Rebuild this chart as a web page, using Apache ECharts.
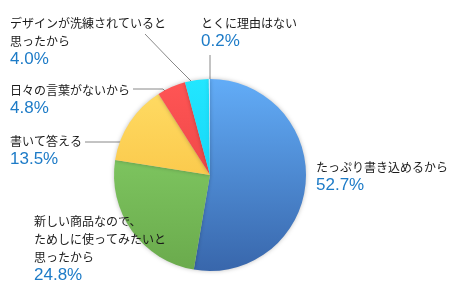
<!DOCTYPE html>
<html><head><meta charset="utf-8">
<script src="https://cdn.jsdelivr.net/npm/echarts@6/dist/echarts.min.js"></script>
<style>html,body{margin:0;padding:0;background:#fff}#c{width:450px;height:295px}</style>
</head><body><div id="c"></div>
<script>
// Data
const categories = ['たっぷり書き込めるから', '新しい商品なので、\nためしに使ってみたいと\n思ったから', '書いて答える', '日々の言葉がないから', 'デザインが洗練されていると\n思ったから', 'とくに理由はない'];
const values = [52.7, 24.8, 13.5, 4.8, 4.0, 0.2];

// Styles / layout
const colorsTop = ['#62acf7', '#8ad66c', '#ffdd66', '#ff5555', '#22e6ff', '#cfe8ff'];
const colorsBot = ['#3866ab', '#6aaa4c', '#f7b733', '#e03b3b', '#0ac8ef', '#a8cce8'];
const labelPos = [[316, 158], [34, 212], [10, 132], [10, 81], [10, 14], [201, 14]];
const linePts = [null, null,
  [[85, 142], [120, 142], [148, 142]],
  [[133, 89], [163, 89], [176, 102]],
  [[145, 34], [172, 62], [200, 90]],
  [[210, 55], [210, 75], [210, 97]]];

const chart = echarts.init(document.getElementById('c'), null, {renderer: 'canvas'});
const data = categories.map((name, i) => ({
  name, value: values[i],
  itemStyle: {
    color: new echarts.graphic.LinearGradient(0, 80, 0, 272, [
      {offset: 0, color: colorsTop[i]}, {offset: 1, color: colorsBot[i]}], true)
  },
  labelLine: {show: !!linePts[i]}
}));
chart.setOption({
  animation: false,
  series: [{
    type: 'pie',
    center: [210, 175],
    radius: 96,
    startAngle: 90,
    clockwise: true,
    avoidLabelOverlap: false,
    data,
    itemStyle: {shadowBlur: 4, shadowColor: 'rgba(0,0,0,0.25)'},
    label: {
      show: true,
      position: 'outside',
      formatter: p => p.name.split('\n').map(s => '{n|' + s + '}').join('\n') + '\n{v|' + p.value.toFixed(1) + '%}',
      rich: {
        n: {fontSize: 12, lineHeight: 18, color: '#1a1a1a', fontFamily: 'Noto Sans CJK JP'},
        v: {fontSize: 17, lineHeight: 18, color: '#1d7bc7', fontFamily: 'Liberation Sans, Arial'}
      }
    },
    labelLine: {lineStyle: {color: '#888', width: 1}},
    labelLayout: p => {
      const i = p.dataIndex;
      const r = {x: labelPos[i][0], y: labelPos[i][1], align: 'left', verticalAlign: 'top'};
      if (linePts[i]) r.labelLinePoints = linePts[i];
      return r;
    }
  }]
});
</script></body></html>
